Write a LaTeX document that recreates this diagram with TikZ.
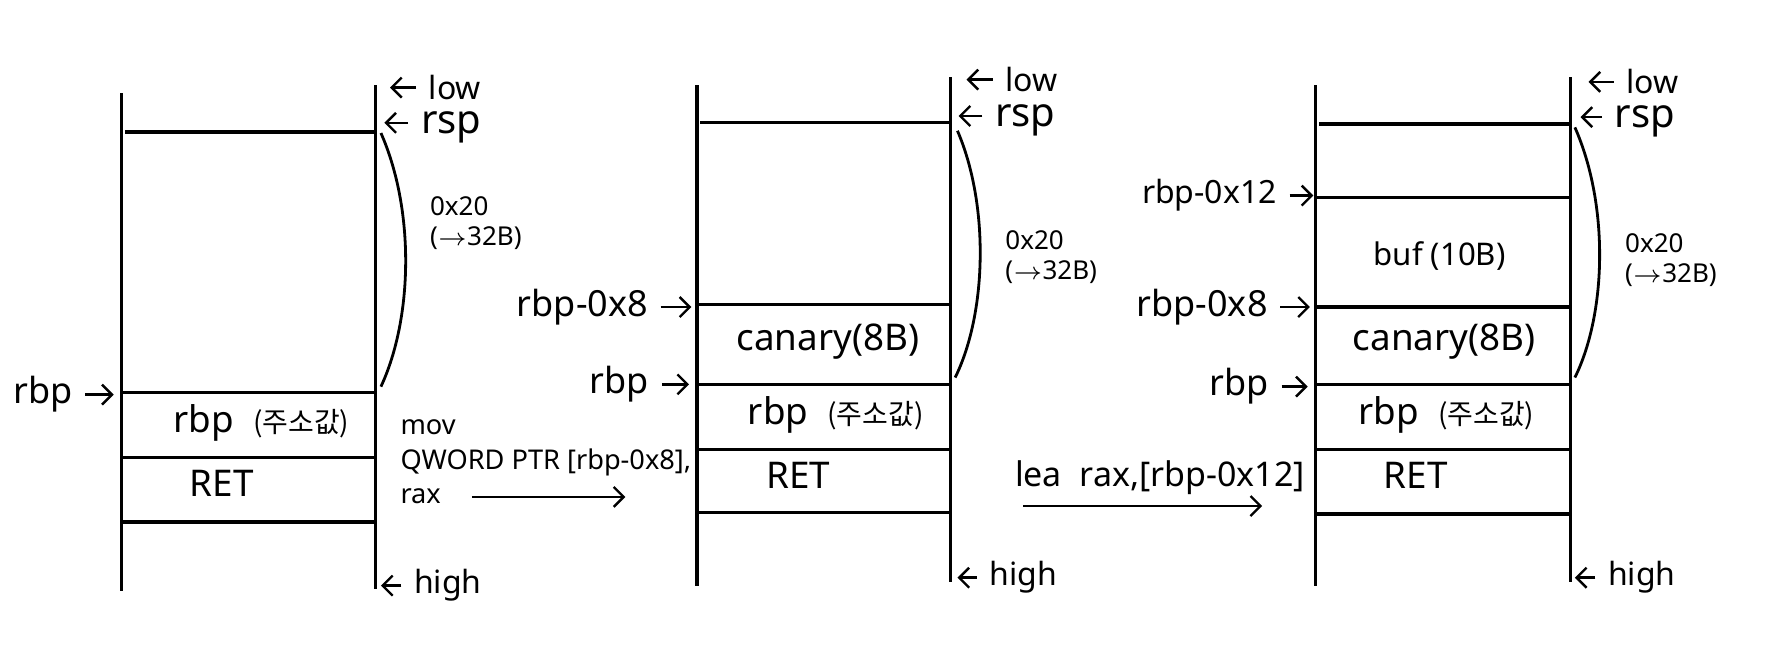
\documentclass[tikz,border=0pt]{standalone}
\usepackage{fontspec}
\setmainfont{Noto Sans}
\newfontfamily\kr{Noto Sans CJK KR}
\usetikzlibrary{positioning, arrows.meta}
\tikzstyle{wall} = [line width=0.8pt]
\tikzstyle{slot} = [line width=0.8pt]
\tikzstyle{lbl} = [inner sep=1pt, font=\fontsize{9}{11}\selectfont]
\tikzstyle{end} = [inner sep=1pt, font=\fontsize{8}{10}\selectfont]
\tikzstyle{top} = [inner sep=1pt, font=\fontsize{10}{12}\selectfont, yshift=-0.04cm]
\tikzstyle{cell} = [inner sep=1pt, font=\fontsize{9.2}{11}\selectfont]
\tikzstyle{size} = [inner sep=1pt, align=left, font=\fontsize{6.5}{7.5}\selectfont]
\tikzstyle{op} = [inner sep=1pt, align=left, font=\fontsize{6.8}{8.6}\selectfont]
\tikzstyle{ptr} = [line width=0.6pt, shorten <=2pt, -{Straight Barb[length=2.5pt,width=5pt]}]
\tikzstyle{brace} = [line width=0.7pt]
\newcommand{\saved}{rbp~~{\kr\fontsize{7}{8}\selectfont(주소값)}}

\begin{document}
\begin{tikzpicture}[x=0.01cm, y=-0.01cm]
    \useasboundingbox (0,0) rectangle (1568,575);

    % Stack 1
    \draw [wall] (107,82) -- (107,520);
    \draw [wall] (330,75) -- (330,518);
    \draw [slot] (110,116) -- (330,116);
    \foreach \y in {345,402,459}
        \draw [slot] (107,\y) -- (330,\y);
    \draw [brace] (335,117) .. controls (365,185) and (363,280) .. (335,340);

    \coordinate (low1) at (343,77);
    \coordinate (rsp1) at (338,108);
    \coordinate (high1) at (335,515);
    \coordinate (rbp1) at (100,347);
    \node (lowtxt1) [end, right=0.3cm of low1] {low};
    \node (rsptxt1) [top, right=0.28cm of rsp1] {rsp};
    \node (hightxt1) [end, right=0.25cm of high1] {high};
    \node (rbptxt1) [lbl, left=0.32cm of rbp1] {rbp};
    \node (size1) [size, anchor=west] at (374,196) {0x20\\ ($\rightarrow$32B)};
    \node (saved1) [cell] at (230,372) {\saved};
    \node (ret1) [cell] at (195,425) {RET};

    \draw [ptr] (lowtxt1) -- (low1);
    \draw [ptr] (rsptxt1.west |- rsp1) -- (rsp1);
    \draw [ptr] (hightxt1) -- (high1);
    \draw [ptr] (rbptxt1) -- (rbp1);

    % Step 1
    \node (mov) [op, anchor=north west] at (348,365) {mov\\ QWORD PTR [rbp-0x8],\\ rax};
    \coordinate (step1a) at (408,437);
    \coordinate (step1b) at (550,437);
    \draw [ptr] (step1a) -- (step1b);

    % Stack 2
    \draw [wall] (613,75) -- (613,515);
    \draw [wall] (836,68) -- (836,512);
    \draw [slot] (616,108) -- (836,108);
    \foreach \y in {268,338,395,451}
        \draw [slot] (613,\y) -- (836,\y);
    \draw [brace] (842,115) .. controls (870,180) and (868,275) .. (840,332);

    \coordinate (low2) at (850,70);
    \coordinate (rsp2) at (843,102);
    \coordinate (high2) at (842,508);
    \coordinate (canary2) at (608,270);
    \coordinate (rbp2) at (606,338);
    \node (lowtxt2) [end, right=0.3cm of low2] {low};
    \node (rsptxt2) [top, right=0.28cm of rsp2] {rsp};
    \node (hightxt2) [end, right=0.24cm of high2] {high};
    \node (canarytxt2) [lbl, left=0.34cm of canary2] {rbp-0x8};
    \node (rbptxt2) [lbl, left=0.31cm of rbp2] {rbp};
    \node (size2) [size, anchor=west] at (880,226) {0x20\\ ($\rightarrow$32B)};
    \node (canarycell2) [cell] at (728,300) {canary(8B)};
    \node (saved2) [cell] at (735,365) {\saved};
    \node (ret2) [cell] at (702,418) {RET};

    \draw [ptr] (lowtxt2) -- (low2);
    \draw [ptr] (rsptxt2.west |- rsp2) -- (rsp2);
    \draw [ptr] (hightxt2) -- (high2);
    \draw [ptr] (canarytxt2) -- (canary2);
    \draw [ptr] (rbptxt2) -- (rbp2);

    % Step 2
    \node (lea) [op, font=\fontsize{8.5}{10}\selectfont] at (1020,420) {lea~ rax,[rbp-0x12]};
    \coordinate (step2a) at (893,445);
    \coordinate (step2b) at (1110,445);
    \draw [ptr] (step2a) -- (step2b);

    % Stack 3
    \draw [wall] (1157,75) -- (1157,515);
    \draw [wall] (1381,68) -- (1381,512);
    \draw [slot] (1160,109) -- (1381,109);
    \foreach \y in {174,270,338,395,452}
        \draw [slot] (1157,\y) -- (1381,\y);
    \draw [brace] (1385,112) .. controls (1415,180) and (1413,275) .. (1385,332);

    \coordinate (low3) at (1397,72);
    \coordinate (rsp3) at (1390,103);
    \coordinate (high3) at (1385,508);
    \coordinate (buf3) at (1155,172);
    \coordinate (canary3) at (1152,270);
    \coordinate (rbp3) at (1150,340);
    \node (lowtxt3) [end, right=0.29cm of low3] {low};
    \node (rsptxt3) [top, right=0.26cm of rsp3] {rsp};
    \node (hightxt3) [end, right=0.25cm of high3] {high};
    \node (buftxt3) [lbl, font=\fontsize{8}{10}\selectfont, left=0.28cm of buf3] {rbp-0x12};
    \node (canarytxt3) [lbl, left=0.33cm of canary3] {rbp-0x8};
    \node (rbptxt3) [lbl, left=0.30cm of rbp3] {rbp};
    \node (size3) [size, anchor=west] at (1425,229) {0x20\\ ($\rightarrow$32B)};
    \node (bufcell3) [cell, font=\fontsize{7.8}{10}\selectfont] at (1266,225) {buf (10B)};
    \node (canarycell3) [cell] at (1270,300) {canary(8B)};
    \node (saved3) [cell] at (1272,365) {\saved};
    \node (ret3) [cell] at (1245,418) {RET};

    \draw [ptr] (lowtxt3) -- (low3);
    \draw [ptr] (rsptxt3.west |- rsp3) -- (rsp3);
    \draw [ptr] (hightxt3) -- (high3);
    \draw [ptr] (buftxt3) -- (buf3);
    \draw [ptr] (canarytxt3) -- (canary3);
    \draw [ptr] (rbptxt3) -- (rbp3);
\end{tikzpicture}
\end{document}
